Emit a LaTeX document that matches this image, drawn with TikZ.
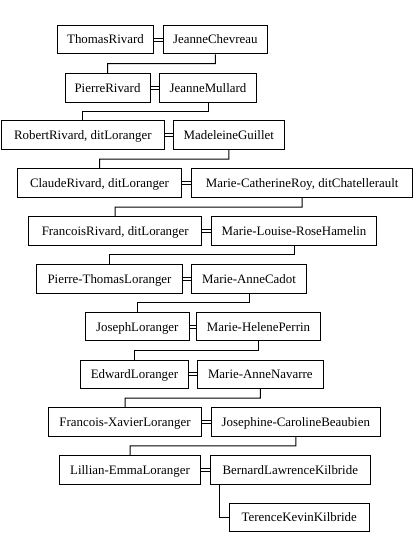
\documentclass[tikz,border=0pt]{standalone}
\usepackage{fontspec}
\setmainfont{Liberation Serif}
\usetikzlibrary{calc}
\begin{document}
\begin{tikzpicture}[x=1pt,y=-1pt,
  box/.style={draw, line width=1pt, rectangle, inner sep=0pt, minimum height=28.5pt, text height=8.6pt, text depth=0pt, font=\fontsize{12.9}{14}\selectfont},
  link/.style={draw, line width=1pt},
  wed/.style={draw, line width=0.9pt}]
\useasboundingbox (0,0) rectangle (414,533);
\node[box, minimum width=96.4pt] (t1) at (105.5,39.65) {ThomasRivard};
\node[box, minimum width=104pt] (s1) at (215.3,39.65) {JeanneChevreau};
\node[box, minimum width=85pt] (t2) at (107.5,87.8) {PierreRivard};
\node[box, minimum width=97.4pt] (s2) at (208,87.8) {JeanneMullard};
\node[box, minimum width=163pt] (t3) at (82.8,135.2) {RobertRivard, ditLoranger};
\node[box, minimum width=111pt] (s3) at (228.8,135.2) {MadeleineGuillet};
\node[box, minimum width=164.4pt] (t4) at (99.5,183.2) {ClaudeRivard, ditLoranger};
\node[box, minimum width=221pt] (s4) at (302.2,183.2) {Marie-CatherineRoy, ditChatellerault};
\node[box, minimum width=173pt] (t5) at (115.2,230.8) {FrancoisRivard, ditLoranger};
\node[box, minimum width=165.4pt] (s5) at (294,230.8) {Marie-Louise-RoseHamelin};
\node[box, minimum width=146.4pt] (t6) at (109.5,278.8) {Pierre-ThomasLoranger};
\node[box, minimum width=115.4pt] (s6) at (249,278.8) {Marie-AnneCadot};
\node[box, minimum width=104pt] (t7) at (137.3,326.7) {JosephLoranger};
\node[box, minimum width=124.4pt] (s7) at (258.5,326.7) {Marie-HelenePerrin};
\node[box, minimum width=108.4pt] (t8) at (134.5,374.3) {EdwardLoranger};
\node[box, minimum width=126pt] (s8) at (260.3,374.3) {Marie-AnneNavarre};
\node[box, minimum width=153.4pt] (t9) at (125,421.8) {Francois-XavierLoranger};
\node[box, minimum width=169pt] (s9) at (295.8,421.8) {Josephine-CarolineBeaubien};
\node[box, minimum width=141.4pt] (t10) at (130,469.8) {Lillian-EmmaLoranger};
\node[box, minimum width=160pt] (s10) at (290.3,469.8) {BernardLawrenceKilbride};
\node[box, minimum width=140pt] (t11) at (299.3,517.5) {TerenceKevinKilbride};
\foreach \i in {1,...,10} {
  \draw[wed] ([yshift=1.5pt]t\i.east) -- ([yshift=1.5pt]s\i.west);
  \draw[wed] ([yshift=-1.5pt]t\i.east) -- ([yshift=-1.5pt]s\i.west);
}
\foreach \i/\j in {1/2,2/3,3/4,4/5,5/6,6/7,7/8,8/9,9/10} {
  \draw[link] (s\i.south) -- ($(s\i.south)!0.5!(s\i.south |- t\j.north)$) -| (t\j.north);
}
\draw[link] ([xshift=10pt]s10.south west) |- (t11.west);
\end{tikzpicture}
\end{document}
